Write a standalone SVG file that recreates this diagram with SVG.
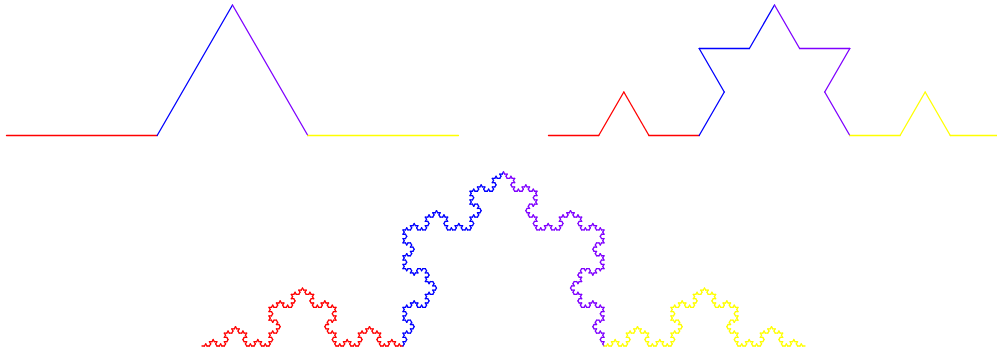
<svg xmlns="http://www.w3.org/2000/svg" xmlns:xlink="http://www.w3.org/1999/xlink" width="997" height="352" viewBox="0 0 997 352">
  <style>
    .seg { fill: none; stroke-width: 1.3; stroke-linecap: round; }
    .red { stroke: #ff0000; }
    .blue { stroke: #0000ff; }
    .purple { stroke: #7f00ff; }
    .yellow { stroke: #ffff00; }
  </style>
  <defs>
    <path id="k0" d="M0,0H1" vector-effect="non-scaling-stroke"/>
    <g id="k1">
      <use href="#k0" transform="scale(0.3333333)"/>
      <use href="#k0" transform="translate(0.3333333,0) rotate(-60) scale(0.3333333)"/>
      <use href="#k0" transform="translate(0.5,-0.2886751) rotate(60) scale(0.3333333)"/>
      <use href="#k0" transform="translate(0.6666667,0) scale(0.3333333)"/>
    </g>
    <g id="k2">
      <use href="#k1" transform="scale(0.3333333)"/>
      <use href="#k1" transform="translate(0.3333333,0) rotate(-60) scale(0.3333333)"/>
      <use href="#k1" transform="translate(0.5,-0.2886751) rotate(60) scale(0.3333333)"/>
      <use href="#k1" transform="translate(0.6666667,0) scale(0.3333333)"/>
    </g>
    <g id="k3">
      <use href="#k2" transform="scale(0.3333333)"/>
      <use href="#k2" transform="translate(0.3333333,0) rotate(-60) scale(0.3333333)"/>
      <use href="#k2" transform="translate(0.5,-0.2886751) rotate(60) scale(0.3333333)"/>
      <use href="#k2" transform="translate(0.6666667,0) scale(0.3333333)"/>
    </g>
    <g id="k4">
      <use href="#k3" transform="scale(0.3333333)"/>
      <use href="#k3" transform="translate(0.3333333,0) rotate(-60) scale(0.3333333)"/>
      <use href="#k3" transform="translate(0.5,-0.2886751) rotate(60) scale(0.3333333)"/>
      <use href="#k3" transform="translate(0.6666667,0) scale(0.3333333)"/>
    </g>
  </defs>

  <g id="koch-level1" class="seg" transform="translate(6.5,135.5) scale(452)">
    <use href="#k0" class="red" transform="scale(0.3333333)"/>
    <use href="#k0" class="blue" transform="translate(0.3333333,0) rotate(-60) scale(0.3333333)"/>
    <use href="#k0" class="purple" transform="translate(0.5,-0.2886751) rotate(60) scale(0.3333333)"/>
    <use href="#k0" class="yellow" transform="translate(0.6666667,0) scale(0.3333333)"/>
  </g>

  <g id="koch-level2" class="seg" transform="translate(548.5,135.5) scale(452)">
    <use href="#k1" class="red" transform="scale(0.3333333)"/>
    <use href="#k1" class="blue" transform="translate(0.3333333,0) rotate(-60) scale(0.3333333)"/>
    <use href="#k1" class="purple" transform="translate(0.5,-0.2886751) rotate(60) scale(0.3333333)"/>
    <use href="#k1" class="yellow" transform="translate(0.6666667,0) scale(0.3333333)"/>
  </g>

  <g id="koch-level5" class="seg" transform="translate(202,346) scale(603)">
    <use href="#k4" class="red" transform="scale(0.3333333)"/>
    <use href="#k4" class="blue" transform="translate(0.3333333,0) rotate(-60) scale(0.3333333)"/>
    <use href="#k4" class="purple" transform="translate(0.5,-0.2886751) rotate(60) scale(0.3333333)"/>
    <use href="#k4" class="yellow" transform="translate(0.6666667,0) scale(0.3333333)"/>
  </g>
</svg>
